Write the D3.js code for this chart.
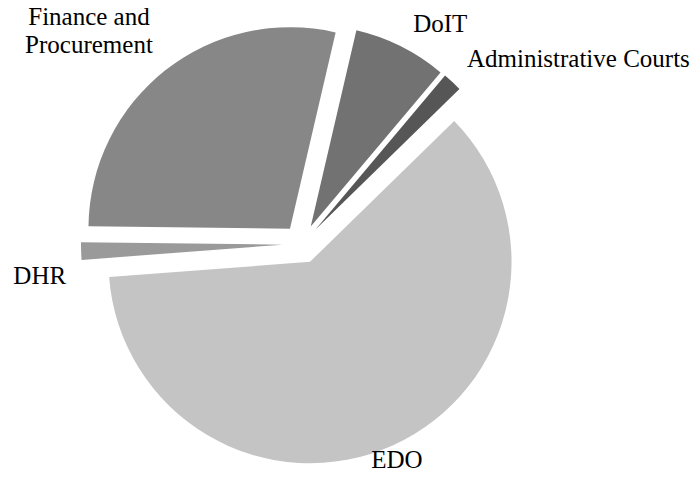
<!DOCTYPE html>
<html>
<head>
<meta charset="utf-8">
<script src="https://cdn.jsdelivr.net/npm/d3@7"></script>
<style>
  html, body { margin: 0; padding: 0; background: #fff; }
  svg { display: block; }
</style>
</head>
<body>
<svg id="chart" width="700" height="477"></svg>
<script>
// Budget share by agency (percent of total), clockwise from the DoIT slice
const categories = ["DoIT", "Administrative Courts", "EDO", "DHR", "Finance and Procurement"];
const shares = [7.5, 1.55, 61.1, 1.4, 28.45];
const labelLines = [["DoIT"], ["Administrative Courts"], ["EDO"], ["DHR"], ["Finance and", "Procurement"]];

// Slice fills
const fills = ["#727272", "#565656", "#c4c4c4", "#9a9a9a", "#878787"];

// Layout
const width = 700, height = 477;
const cx = 302, cy = 244;
const radius = 201.5;
const explode = 19.5;
const labelGap = 14;
const lineHeight = 28;
const startDeg = 13.1;
const labelFont = "'Liberation Serif', 'Times New Roman', Tinos, 'DejaVu Serif', serif";

// Label placement relative to the point just outside each slice
const labelPlacement = [
  { anchor: "start",  dx: 6,   dy: -2 },
  { anchor: "start",  dx: 5,   dy: -5 },
  { anchor: "middle", dx: -2,  dy: 10 },
  { anchor: "end",    dx: -1,  dy: 32 },
  { anchor: "middle", dx: -68, dy: -34 }
];

const svg = d3.select("#chart");
const g = svg.append("g").attr("transform", `translate(${cx},${cy})`);

const start = startDeg * Math.PI / 180;
const pie = d3.pie().sort(null).value(d => d)
  .startAngle(start).endAngle(start + 2 * Math.PI);
const arcs = pie(shares);

const arc = d3.arc().innerRadius(0).outerRadius(radius);

const dir = a => [Math.sin(a), -Math.cos(a)];

// Exploded slices
g.selectAll("path.slice")
  .data(arcs)
  .join("path")
  .attr("class", "slice")
  .attr("d", arc)
  .attr("fill", (d, i) => fills[i])
  .attr("transform", d => {
    const [ux, uy] = dir((d.startAngle + d.endAngle) / 2);
    return `translate(${ux * explode},${uy * explode})`;
  });

// Category labels outside each slice
g.selectAll("text.label")
  .data(arcs)
  .join("text")
  .attr("class", "label")
  .attr("font-family", labelFont)
  .style("font-family", labelFont)
  .attr("font-size", 25)
  .attr("fill", "#000")
  .attr("text-anchor", (d, i) => labelPlacement[i].anchor)
  .each(function (d, i) {
    const [ux, uy] = dir((d.startAngle + d.endAngle) / 2);
    const R = radius + explode + labelGap;
    const x = ux * R + labelPlacement[i].dx;
    const y = uy * R + labelPlacement[i].dy;
    const t = d3.select(this);
    labelLines[i].forEach((line, k) => {
      t.append("tspan")
        .attr("x", x)
        .attr("y", y + k * lineHeight)
        .text(line);
    });
  });
</script>
</body>
</html>
